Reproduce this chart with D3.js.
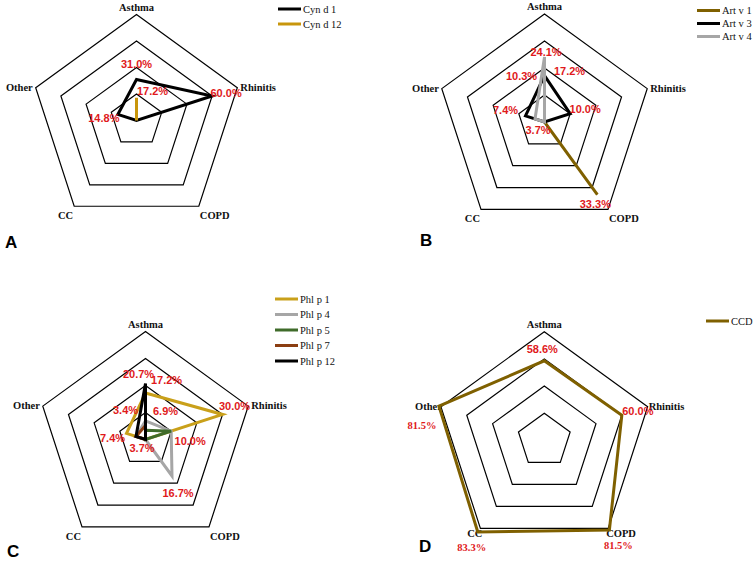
<!DOCTYPE html>
<html>
<head>
<meta charset="utf-8">
<script src="https://cdn.jsdelivr.net/npm/d3@7"></script>
<style>
  body { margin: 0; background: #fff; }
  svg { display: block; }
  .axis-label { font-family: "Liberation Serif", "Times New Roman", serif; font-weight: bold; font-size: 10.5px; fill: #111; }
  .val { font-family: "Liberation Sans Narrow", "Liberation Sans", Arial, sans-serif; font-weight: bold; font-size: 11px; fill: #e0191b; }
  .val.serif { font-family: "Liberation Serif", "Times New Roman", serif; font-size: 10.5px; }
  .legend { font-family: "Liberation Serif", "Times New Roman", serif; font-size: 10.5px; fill: #111; }
  .panel-letter { font-family: "Liberation Sans", Arial, sans-serif; font-weight: bold; font-size: 17px; fill: #000; }
</style>
</head>
<body>
<svg id="chart"></svg>
<script>
// axes of every radar
var axes = ["Asthma", "Rhinitis", "COPD", "CC", "Other"];

// A
var seriesA = ["Cyn d 1", "Cyn d 12"];
var valuesA = [
  [31.0, 60.0, 0, 0, 14.8],
  [17.2, 0, 0, 0, 0]
];
// B
var seriesB = ["Art v 1", "Art v 3", "Art v 4"];
var valuesB = [
  [10.3, 0, 33.3, 0, 0],
  [17.2, 10.0, 0, 0, 7.4],
  [24.1, 0, 0, 0, 3.7]
];
// C
var seriesC = ["Phl p 1", "Phl p 4", "Phl p 5", "Phl p 7", "Phl p 12"];
var valuesC = [
  [17.2, 30.0, 0, 0, 7.4],
  [6.9, 10.0, 16.7, 0, 3.7],
  [3.4, 10.0, 0, 0, 0],
  [5.2, 0, 0, 0, 3.7],
  [20.7, 0, 0, 0, 3.7]
];
// D
var seriesD = ["CCD"];
var valuesD = [
  [58.6, 60.0, 81.5, 83.3, 81.5]
];

// scale maximum of each radar (outer ring)
var maxA = 80, maxB = 40, maxC = 40, maxD = 80;

var width = 753, height = 563;
var svg = d3.select("#chart").attr("width", width).attr("height", height);

// axis label placement around the outer vertex
var axisLabel = [
  {anchor: "middle", dx: 0, dy: -4},
  {anchor: "start", dx: 3, dy: 3},
  {anchor: "start", dx: 1, dy: 13},
  {anchor: "end", dx: -1, dy: 13},
  {anchor: "end", dx: -3, dy: 3}
];
var axisLabelD = [
  {anchor: "middle", dx: 0, dy: -4},
  {anchor: "start", dx: 1, dy: 3},
  {anchor: "start", dx: -2, dy: 9},
  {anchor: "end", dx: 2, dy: 9},
  {anchor: "end", dx: 1, dy: 3}
];

var panels = [
  {letter: "A", names: seriesA, values: valuesA, max: maxA,
   cx: 136.5, cy: 120.5, R: 106, axisLabel: axisLabel,
   colors: ["#000000", "#c8960c"],
   legend: {x: 278, y: 9, step: 15},
   letterPos: [5, 248],
   // [series, axis, dx, dy]
   labels: [[0, 0, 0, -15], [1, 0, 16, -7], [0, 1, 14, -3], [0, 4, -14, 4]]},
  {letter: "B", names: seriesB, values: valuesB, max: maxB,
   cx: 544.5, cy: 122, R: 108, axisLabel: axisLabel,
   colors: ["#7f6000", "#000000", "#a6a6a6"],
   legend: {x: 697, y: 10.5, step: 13},
   letterPos: [420, 246],
   labels: [[2, 0, 1.5, -5], [0, 0, -23, -18], [1, 0, 25, -5], [1, 1, 15, -5],
            [1, 4, -20, -6], [2, 4, 3, 11], [0, 2, -2, 9]]},
  {letter: "C", names: seriesC, values: valuesC, max: maxC,
   cx: 145.5, cy: 439.5, R: 108, axisLabel: axisLabel,
   colors: ["#c9a01a", "#a6a6a6", "#3f6b2a", "#8b3e12", "#000000"],
   legend: {x: 275, y: 299, step: 15.5},
   letterPos: [7, 557],
   labels: [[4, 0, -7, -10], [0, 0, 21, -13], [2, 0, -20, -20], [1, 0, 20, -10],
            [0, 1, 12, -8], [0, 4, -14, 5], [3, 4, 6, 12], [1, 1, 19, 10], [1, 2, 6, 17]]},
  {letter: "D", names: seriesD, values: valuesD, max: maxD,
   cx: 544.3, cy: 440.4, R: 108.7, axisLabel: axisLabelD,
   colors: ["#7f6000"],
   legend: {x: 706, y: 321, step: 15},
   letterPos: [419, 552],
   labels: [[0, 0, -2, -12], [0, 1, 16, -4], [0, 4, -17, 19, "serif"],
            [0, 3, -6, 16, "serif"], [0, 2, 9, 16, "serif"]]}
];

var angle = d3.scaleLinear().domain([0, axes.length]).range([0, 2 * Math.PI]);
var rings = [0.25, 0.5, 0.75, 1];

panels.forEach(function(p) {
  var r = d3.scaleLinear().domain([0, p.max]).range([0, p.R]);
  var g = svg.append("g").attr("transform", "translate(" + p.cx + "," + p.cy + ")");

  function pt(i, v) {
    var a = angle(i);
    return [Math.sin(a) * r(v), -Math.cos(a) * r(v)];
  }

  // grid rings
  var ringLine = d3.lineRadial()
    .angle(function(d, i) { return angle(i); })
    .radius(function(d) { return d; })
    .curve(d3.curveLinearClosed);

  g.selectAll("path.ring")
    .data(rings)
    .enter()
    .append("path")
    .attr("class", "ring")
    .attr("d", function(k) { return ringLine(axes.map(function() { return r(p.max * k); })); })
    .attr("fill", "none")
    .attr("stroke", "#000")
    .attr("stroke-width", 1.2);

  // axis labels
  var al = p.axisLabel;
  g.selectAll("text.axis-label")
    .data(axes)
    .enter()
    .append("text")
    .attr("class", "axis-label")
    .attr("x", function(d, i) { return pt(i, p.max)[0] + al[i].dx; })
    .attr("y", function(d, i) { return pt(i, p.max)[1] + al[i].dy; })
    .attr("text-anchor", function(d, i) { return al[i].anchor; })
    .text(function(d) { return d; });

  // series
  var seriesLine = d3.lineRadial()
    .angle(function(d, i) { return angle(i); })
    .radius(function(d) { return r(d); })
    .curve(d3.curveLinearClosed);

  g.selectAll("path.series")
    .data(p.values)
    .enter()
    .append("path")
    .attr("class", "series")
    .attr("d", function(d) { return seriesLine(d); })
    .attr("fill", "none")
    .attr("stroke", function(d, i) { return p.colors[i]; })
    .attr("stroke-width", 3)
    .attr("stroke-linejoin", "miter");

  // value labels
  g.selectAll("text.val")
    .data(p.labels)
    .enter()
    .append("text")
    .attr("class", function(d) { return d[4] === "serif" ? "val serif" : "val"; })
    .attr("x", function(d) { return pt(d[1], p.values[d[0]][d[1]])[0] + d[2]; })
    .attr("y", function(d) { return pt(d[1], p.values[d[0]][d[1]])[1] + d[3]; })
    .attr("text-anchor", "middle")
    .attr("dominant-baseline", "central")
    .text(function(d) { return p.values[d[0]][d[1]].toFixed(1) + "%"; });

  // legend
  var lg = svg.append("g").attr("transform", "translate(" + p.legend.x + "," + p.legend.y + ")");
  var items = lg.selectAll("g")
    .data(p.names)
    .enter()
    .append("g")
    .attr("transform", function(d, i) { return "translate(0," + (i * p.legend.step) + ")"; });
  items.append("line")
    .attr("x1", 0).attr("x2", 23).attr("y1", 0).attr("y2", 0)
    .attr("stroke", function(d, i) { return p.colors[i]; })
    .attr("stroke-width", 3);
  items.append("text")
    .attr("class", "legend")
    .attr("x", 25)
    .attr("y", 0)
    .attr("dominant-baseline", "central")
    .text(function(d) { return d; });

  svg.append("text")
    .attr("class", "panel-letter")
    .attr("x", p.letterPos[0])
    .attr("y", p.letterPos[1])
    .text(p.letter);
});
</script>
</body>
</html>
